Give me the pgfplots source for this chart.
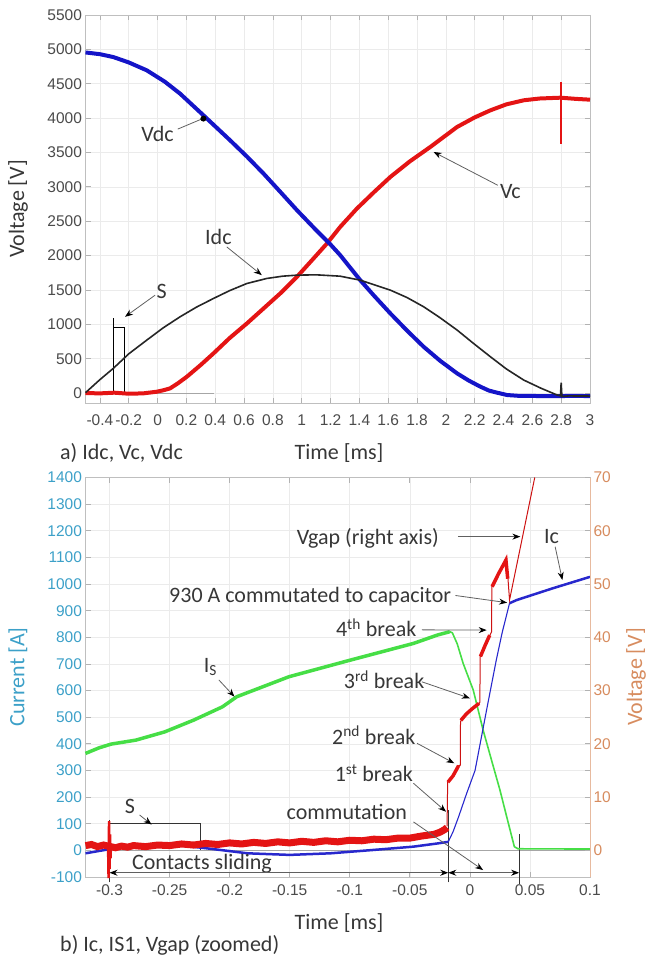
\documentclass[border=0pt]{standalone}
\usepackage{fontspec}
\setmainfont{Carlito}
\newfontfamily\tickfont{Liberation Sans}
\usepackage{pgfplots}
\pgfplotsset{compat=1.18}
\usetikzlibrary{arrows.meta}

\definecolor{vdcblue}{RGB}{20,20,200}
\definecolor{vcred}{RGB}{228,20,20}
\definecolor{isgreen}{RGB}{70,222,70}
\definecolor{icblue}{RGB}{40,40,205}
\definecolor{curteal}{RGB}{60,160,200}
\definecolor{voltorange}{RGB}{215,140,95}
\definecolor{ticktext}{RGB}{75,75,75}
\definecolor{anntext}{RGB}{55,55,55}

\tikzset{
  ann/.style={draw=gray!75!black, line width=0.8pt, -{Stealth[black,length=8pt,width=6pt]}},
  dann/.style={draw=gray!75!black, line width=0.8pt, {Stealth[black,length=8pt,width=6pt]}-{Stealth[black,length=8pt,width=6pt]}},
  lbl/.style={text=anntext, font=\fontsize{22}{26}\selectfont, inner sep=0pt},
}
\pgfplotsset{
  common/.style={
    scale only axis, clip=false,
    grid=major, major grid style={gray!16, line width=0.6pt},
    axis line style={gray!50, line width=0.7pt},
    tick style={gray!60, line width=0.7pt},
    major tick length=5pt,
    tick label style={font=\tickfont\fontsize{15.5}{18}\selectfont, text=ticktext},
  },
}

\begin{document}
\begin{tikzpicture}
\useasboundingbox (0,0) rectangle (648pt,-958pt);

%================ TOP CHART ================
\begin{axis}[common,
  at={(85.5pt,-15pt)}, anchor=north west,
  width=504.5pt, height=388pt,
  xmin=-0.5, xmax=3, ymin=-145, ymax=5500,
  xtick={-0.4,-0.2,0,0.2,0.4,0.6,0.8,1,1.2,1.4,1.6,1.8,2,2.2,2.4,2.6,2.8,3},
  xticklabels={-0.4,-0.2,0,0.2,0.4,0.6,0.8,1,1.2,1.4,1.6,1.8,2,2.2,2.4,2.6,2.8,3},
  ytick={0,500,1000,1500,2000,2500,3000,3500,4000,4500,5000,5500},
  yticklabels={0,500,1000,1500,2000,2500,3000,3500,4000,4500,5000,5500},
  xticklabel style={yshift=-8pt},
]
% S signal
\addplot[gray!70, line width=1pt] coordinates {(-0.5,0) (0.39,0)};
\addplot[black, line width=1pt] coordinates {(-0.307,0) (-0.307,1086)};
\addplot[black, line width=1pt] coordinates {(-0.307,950) (-0.226,950) (-0.226,0)};
% Vc
\addplot[vcred, line width=4pt] coordinates {
(-0.5,0) (-0.4,-5) (-0.3,5) (-0.2,-10) (-0.1,-5) (-0.006,19) (0.04,40) (0.087,68)
(0.14,140) (0.203,237) (0.3,410) (0.388,577) (0.5,800) (0.62,1013) (0.735,1230)
(0.851,1449) (0.967,1691) (1.07,1930) (1.175,2175) (1.267,2417) (1.383,2684)
(1.5,2920) (1.615,3144) (1.75,3370) (1.892,3580) (2.078,3871) (2.2,4010)
(2.309,4113) (2.42,4200) (2.54,4259) (2.65,4285) (2.795,4297) (2.9,4280) (3.0,4268)};
\addplot[vcred, line width=1.5pt] coordinates {(2.8,4525) (2.8,3629)};
% Vdc
\addplot[vdcblue, line width=4pt] coordinates {
(-0.5,4955) (-0.4,4930) (-0.307,4888) (-0.2,4810) (-0.075,4695) (0.05,4530)
(0.156,4356) (0.318,4041) (0.503,3677) (0.62,3440) (0.735,3193) (0.85,2930)
(0.967,2660) (1.1,2370) (1.2,2160) (1.267,2006) (1.406,1642) (1.5,1420)
(1.615,1158) (1.73,910) (1.846,673) (1.96,470) (2.078,286) (2.16,180) (2.24,92)
(2.3,35) (2.356,5) (2.425,-29) (2.5,-40) (2.7,-45) (2.9,-42) (3.0,-44)};
% Idc
\addplot[black!85, line width=1.6pt] coordinates {
(-0.5,5) (-0.4,195) (-0.307,359) (-0.2,570) (-0.075,770) (0.04,950) (0.156,1109)
(0.27,1250) (0.388,1376) (0.5,1490) (0.62,1594) (0.758,1667) (0.867,1700)
(0.967,1715) (1.1,1720) (1.267,1700) (1.406,1642) (1.615,1497) (1.73,1390)
(1.846,1255) (1.96,1095) (2.078,916) (2.19,725) (2.309,528) (2.42,350)
(2.54,189) (2.66,70) (2.772,-29) (2.795,-40) (2.8,150) (2.805,-50) (2.85,-42) (3.0,-44)};
% annotations
\node[lbl] at (axis cs:0.0,3775) {Vdc};
\draw[draw=gray!75!black, line width=0.8pt] (axis cs:0.14,3840) -- (axis cs:0.31,3990);
\fill[black] (axis cs:0.318,3993) circle (3pt);
\node[lbl] at (axis cs:2.448,2926) {Vc};
\draw[ann] (axis cs:2.36,3023) -- (axis cs:1.915,3507);
\node[lbl] at (axis cs:0.422,2272) {Idc};
\draw[ann] (axis cs:0.48,2126) -- (axis cs:0.723,1715);
\node[lbl] at (axis cs:0.029,1472) {S};
\draw[ann] (axis cs:-0.017,1424) -- (axis cs:-0.226,1109);
\end{axis}

%================ BOTTOM CHART (left axis) ================
\begin{axis}[common,
  at={(85.5pt,-477.5pt)}, anchor=north west,
  width=504.5pt, height=399.5pt,
  xmin=-0.32, xmax=0.1, ymin=-100, ymax=1400,
  xtick={-0.3,-0.25,-0.2,-0.15,-0.1,-0.05,0,0.05,0.1},
  xticklabels={-0.3,-0.25,-0.2,-0.15,-0.1,-0.05,0,0.05,0.1},
  ytick={-100,0,100,200,300,400,500,600,700,800,900,1000,1100,1200,1300,1400},
  yticklabels={-100,0,100,200,300,400,500,600,700,800,900,1000,1100,1200,1300,1400},
  ytick pos=left,
  yticklabel style={text=curteal},
  xticklabel style={yshift=-4pt},
]
% S signal
\addplot[gray!70, line width=1pt] coordinates {(-0.3,0) (0.1,0)};
\addplot[black!80, line width=1pt] coordinates {(-0.3,-120) (-0.3,115)};
\addplot[black!80, line width=1pt] coordinates {(-0.3,100) (-0.224,100) (-0.224,0)};
\addplot[black!80, line width=1pt] coordinates {(-0.018,-120) (-0.018,150)};
\addplot[black!80, line width=1pt] coordinates {(0.041,-125) (0.041,60)};
% Is
\addplot[isgreen, line width=3.5pt] coordinates {
(-0.32,364) (-0.3087,385) (-0.2987,399) (-0.278,414) (-0.254,445) (-0.23,489)
(-0.206,539) (-0.194,577) (-0.1506,652) (-0.099,715) (-0.047,777) (-0.0267,809)
(-0.0167,821)};
\addplot[isgreen, line width=1.6pt] coordinates {
(-0.0167,821) (-0.0146,817) (-0.0105,775) (-0.0056,702) (0.0028,602) (0.011,452)
(0.018,339) (0.025,227) (0.031,120) (0.037,14) (0.04,6) (0.1,5)};
% Ic
\addplot[icblue, line width=2.5pt] coordinates {
(-0.32,-11) (-0.288,14) (-0.271,23) (-0.244,20) (-0.2195,8) (-0.185,-11)
(-0.15,-17) (-0.116,-11) (-0.082,1) (-0.047,14) (-0.027,26) (-0.018,32)};
\addplot[icblue, line width=1.1pt] coordinates {
(-0.018,32) (-0.014,70) (-0.0094,126) (-0.003,210) (0.0043,300) (0.0139,527)
(0.022,715) (0.027,820) (0.033,928)};
\addplot[icblue, line width=2.5pt] coordinates {
(0.033,928) (0.039,940) (0.069,984) (0.1,1027)};
\end{axis}

%================ BOTTOM CHART (right axis) ================
\begin{axis}[common,
  at={(85.5pt,-477.5pt)}, anchor=north west,
  width=504.5pt, height=399.5pt,
  xmin=-0.32, xmax=0.1, ymin=-5, ymax=70,
  grid=none,
  axis x line=none, axis y line*=right,
  ytick={0,10,20,30,40,50,60,70},
  yticklabels={0,10,20,30,40,50,60,70},
  minor ytick={5,15,25,35,45,55,65},
  minor tick length=5pt,
  minor tick style={gray!60, line width=0.7pt},
  yticklabel style={text=voltorange},
  axis line style={voltorange!60, line width=0.7pt},
]
% Vgap noisy band
\addplot[vcred, line width=7pt] coordinates {
(-0.32,0.9) (-0.315,1.1) (-0.31,0.7) (-0.305,1.0) (-0.301,0.8)
(-0.295,0.5) (-0.29,0.8) (-0.285,0.6) (-0.28,0.9) (-0.27,0.7) (-0.26,1.0)
(-0.25,0.9) (-0.24,1.2) (-0.23,1.0) (-0.22,1.3) (-0.21,1.1) (-0.2,1.4) (-0.19,1.2)
(-0.18,1.5) (-0.17,1.3) (-0.16,1.6) (-0.15,1.4) (-0.14,1.7) (-0.13,1.5) (-0.12,1.8)
(-0.11,1.6) (-0.1,1.9) (-0.09,1.8) (-0.08,2.1) (-0.07,2.0) (-0.06,2.3) (-0.05,2.3)
(-0.04,2.7) (-0.03,3.0) (-0.025,3.4) (-0.021,3.9) (-0.019,4.3)};
% spike at -0.3
\addplot[vcred, line width=2.5pt] coordinates {
(-0.3012,0.8) (-0.3008,-5.2) (-0.3004,5.5) (-0.3,-3.5) (-0.2996,3) (-0.2992,-1.5) (-0.2988,0.8)};
% Vgap thin
\addplot[vcred!90!black, line width=1pt] coordinates {
(-0.019,4.5) (-0.0185,12.8) (-0.014,14.0) (-0.0094,15.9) (-0.008,16)
(-0.0078,24.2) (-0.003,25.5) (0.002,26.5) (0.0078,27.6) (0.0083,27.8)
(0.0086,36.4) (0.0127,38.5) (0.0167,40.4) (0.018,41) (0.0183,49.5)
(0.024,52) (0.0306,54.5) (0.033,47) (0.054,70)};
% Vgap blobs
\addplot[vcred, line width=3.5pt] coordinates {(-0.0183,12.8) (-0.014,14.0) (-0.0094,15.9)};
\addplot[vcred, line width=3.5pt] coordinates {(-0.0075,24.4) (-0.003,25.6) (0.002,26.6) (0.0076,27.6)};
\addplot[vcred, line width=3.5pt] coordinates {(0.0088,36.4) (0.0127,38.5) (0.0165,40.4)};
\addplot[vcred, line width=3.5pt] coordinates {(0.0185,49.5) (0.024,52) (0.0300,54.5) (0.0315,51)};
% annotations (in V = A/20)
\node[lbl] at (axis cs:-0.085,58.65) {Vgap (right axis)};
\draw[ann] (axis cs:-0.01,58.9) -- (axis cs:0.042,58.9);
\node[lbl] at (axis cs:0.068,58.9) {Ic};
\draw[ann] (axis cs:0.071,57) -- (axis cs:0.077,50.75);
\node[lbl] at (axis cs:-0.133,47.6) {930 A commutated to capacitor};
\draw[ann] (axis cs:-0.012,47.85) -- (axis cs:0.031,46.5);
\node[lbl] at (axis cs:-0.078,41.8) {4\textsuperscript{th} break};
\draw[ann] (axis cs:-0.04,41.4) -- (axis cs:0.014,41.35);
\node[lbl] at (axis cs:-0.0714,32) {3\textsuperscript{rd} break};
\draw[ann] (axis cs:-0.04,31.65) -- (axis cs:0,28.55);
\node[lbl] at (axis cs:-0.08,21.65) {2\textsuperscript{nd} break};
\draw[ann] (axis cs:-0.044,20.1) -- (axis cs:-0.013,16.35);
\node[lbl] at (axis cs:-0.08,14.45) {1\textsuperscript{st} break};
\draw[ann] (axis cs:-0.047,12.6) -- (axis cs:-0.0198,7.25);
\node[lbl] at (axis cs:-0.1025,7.25) {commutation};
\draw[ann] (axis cs:-0.047,5.35) -- (axis cs:0.011,-3.7);
\node[lbl] at (axis cs:-0.216,34.5) {I\textsubscript{S}};
\draw[ann] (axis cs:-0.209,32) -- (axis cs:-0.196,28.85);
\node[lbl] at (axis cs:-0.283,8.2) {S};
\draw[ann] (axis cs:-0.275,6.65) -- (axis cs:-0.265,4.85);
\node[lbl] at (axis cs:-0.223,-2.6) {Contacts sliding};
\draw[dann] (axis cs:-0.3,-4.2) -- (axis cs:-0.018,-4.2);
\draw[dann] (axis cs:-0.018,-4.2) -- (axis cs:0.041,-4.2);
\end{axis}

%================ LABELS ================
\node[lbl, rotate=90] at (18pt,-209pt) {Voltage [V]};
\node[lbl] at (339pt,-453pt) {Time [ms]};
\node[lbl, anchor=west] at (60pt,-453pt) {a) Idc, Vc, Vdc};
\node[lbl, rotate=90, text=curteal] at (18pt,-677pt) {Current [A]};
\node[lbl, rotate=90, text=voltorange] at (636pt,-677pt) {Voltage [V]};
\node[lbl] at (339pt,-923pt) {Time [ms]};
\node[lbl, anchor=west] at (60pt,-945pt) {b) Ic, IS1, Vgap (zoomed)};
\end{tikzpicture}
\end{document}
